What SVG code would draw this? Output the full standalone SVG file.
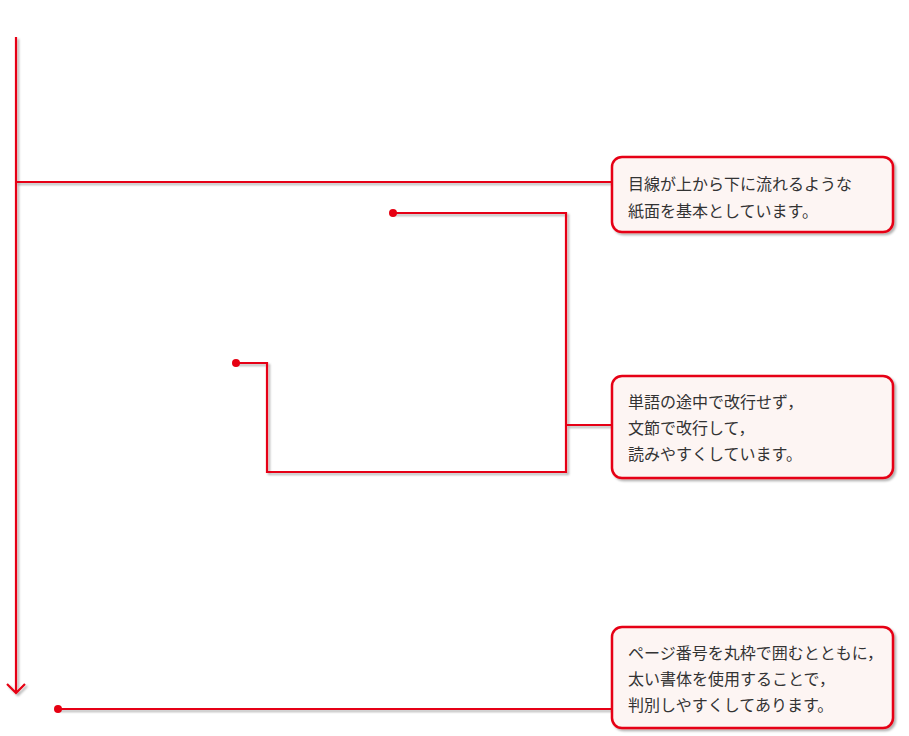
<svg xmlns="http://www.w3.org/2000/svg" width="909" height="736" viewBox="0 0 909 736">
<defs>
<filter id="sh" filterUnits="userSpaceOnUse" x="0" y="0" width="909" height="736"><feDropShadow dx="2" dy="2" stdDeviation="1.2" flood-color="#000" flood-opacity="0.3"/></filter>
<style>
.ln{fill:none;stroke:#e60012;stroke-width:2.2;filter:url(#sh)}
.dot{fill:#e60012}
.box{fill:#fdf5f3;stroke:#e60012;stroke-width:2.5;filter:url(#sh)}
.t{font-family:"Noto Sans CJK JP",sans-serif;font-size:16px;fill:#333}
</style>
</defs>
<rect width="909" height="736" fill="#fff"/>
<g id="connectors">
<path class="ln" d="M16 37 V693 M7 684 L16 693 L25 684"/>
<path class="ln" d="M16 182 H612"/>
<path class="ln" d="M393 213 H566 V472 H267 V363 H236 M566 425 H612"/>
<path class="ln" d="M58 709 H612"/>
<circle class="dot" cx="393" cy="213" r="4"/>
<circle class="dot" cx="236" cy="363" r="4"/>
<circle class="dot" cx="58" cy="709" r="4"/>
</g>
<g id="n1"><rect class="box" x="612" y="157" width="281" height="75" rx="10"/>
<text class="t" x="628" y="190">目線が上から下に流れるような</text><text class="t" x="628" y="217">紙面を基本としています。</text></g>
<g id="n2"><rect class="box" x="612" y="376" width="281" height="102" rx="10"/>
<text class="t" x="628" y="408">単語の途中で改行せず，</text><text class="t" x="628" y="434">文節で改行して，</text><text class="t" x="628" y="460">読みやすくしています。</text></g>
<g id="n3"><rect class="box" x="612" y="627" width="281" height="101" rx="10"/>
<text class="t" x="628" y="659">ページ番号を丸枠で囲むとともに，</text><text class="t" x="628" y="685">太い書体を使用することで，</text><text class="t" x="628" y="711">判別しやすくしてあります。</text></g>
</svg>
